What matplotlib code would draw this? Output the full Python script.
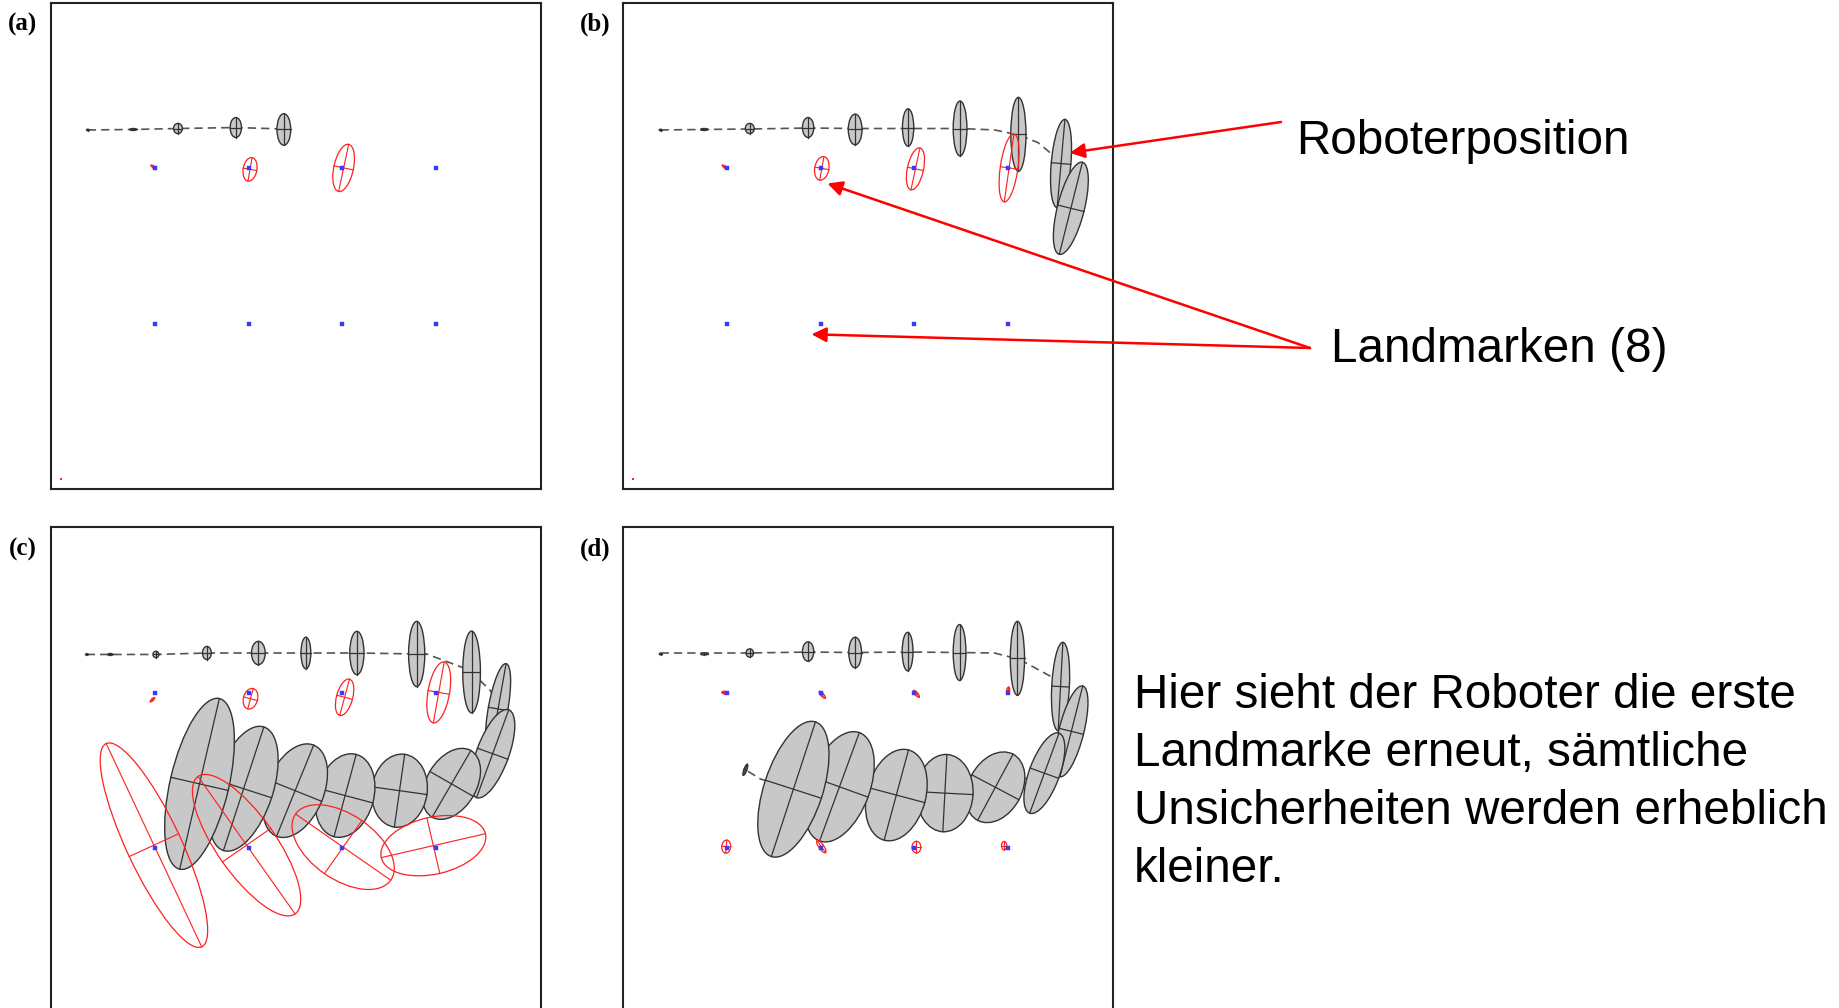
import numpy as np
import matplotlib.pyplot as plt
from matplotlib.patches import Ellipse

W, H = 1839, 1008

# True landmark grid (panel units 0..100, y up)
landmark_x = [21.3, 40.5, 59.5, 78.6]
landmark_y = [65.9, 34.0]

# Robot pose estimates: (x, y, major, minor, angle of major axis in deg)
robot_a = [(7.6, 73.8, 0.5, 0.3, 0), (16.9, 73.9, 1.4, 0.4, 0), (26.0, 74.1, 2.1, 1.8, 90),
           (37.8, 74.3, 4.1, 2.3, 90), (47.6, 73.9, 6.5, 2.8, 90)]
robot_b = [(7.7, 73.8, 0.5, 0.3, 0), (16.6, 73.9, 1.4, 0.4, 0), (25.9, 74.1, 2.1, 1.8, 90),
           (37.8, 74.3, 4.1, 2.3, 90), (47.4, 73.9, 6.3, 2.8, 90), (58.2, 74.3, 7.7, 2.3, 90),
           (68.8, 74.1, 11.3, 2.8, 90), (80.7, 72.9, 15.2, 3.1, 90), (89.4, 66.9, 18.2, 4.0, 85),
           (91.4, 57.7, 19.5, 5.5, 76)]
robot_c = [(7.4, 73.8, 0.5, 0.3, 0), (12.2, 73.8, 1.0, 0.4, 0), (21.5, 73.8, 1.3, 1.2, 90),
           (31.9, 74.1, 2.7, 1.8, 90), (42.4, 74.1, 4.8, 2.8, 90), (52.1, 74.1, 6.5, 2.0, 90),
           (62.5, 74.1, 8.9, 2.9, 90), (74.7, 73.9, 13.4, 3.3, 90), (85.9, 70.2, 16.8, 3.6, 90),
           (91.3, 62.6, 18.9, 4.0, 80), (90.2, 53.4, 19.2, 6.6, 70), (81.8, 47.2, 15.8, 10.2, 60),
           (71.2, 45.8, 15.1, 11.3, 82), (60.1, 44.8, 17.5, 11.7, 75), (49.9, 45.8, 20.2, 11.7, 68),
           (39.4, 46.2, 26.7, 12.0, 72), (30.4, 47.2, 36.0, 12.0, 77)]
robot_d = [(7.7, 73.9, 0.5, 0.3, 0), (16.6, 73.9, 1.4, 0.4, 0), (25.9, 74.1, 1.7, 1.5, 90),
           (37.8, 74.4, 4.0, 2.3, 90), (47.4, 74.2, 6.3, 2.6, 90), (58.1, 74.4, 7.9, 2.2, 90),
           (68.7, 74.2, 11.5, 2.6, 90), (80.5, 73.0, 15.2, 2.9, 90), (89.3, 67.2, 18.2, 3.6, 87),
           (91.5, 58.0, 19.2, 5.1, 76), (86.0, 49.4, 17.5, 6.2, 70), (76.0, 46.5, 15.4, 10.9, 62),
           (65.7, 45.3, 15.9, 11.5, 87), (55.8, 44.9, 19.2, 12.0, 75), (44.2, 46.6, 23.7, 12.4, 70),
           (34.8, 46.1, 29.1, 12.0, 72), (25.0, 50.1, 2.4, 0.6, 70)]

# Landmark estimates: (x, y, major, minor, angle)
marks_a = [(21.0, 66.2, 1.2, 0.4, -35), (40.7, 65.7, 4.9, 2.8, 80), (59.8, 66.0, 9.9, 4.0, 78)]
marks_b = [(20.8, 66.2, 1.2, 0.4, -35), (40.6, 65.9, 4.9, 2.9, 80), (59.7, 65.8, 8.8, 3.3, 78),
           (78.8, 66.0, 14.1, 3.6, 82)]
marks_c = [(20.8, 64.5, 1.2, 0.4, 45), (40.8, 64.7, 4.3, 2.9, 75), (60.0, 65.0, 7.7, 3.3, 75),
           (79.2, 66.0, 12.7, 4.4, 80), (21.1, 34.6, 46.1, 11.1, -65), (40.0, 34.6, 34.5, 12.0, -55),
           (59.7, 34.2, 23.7, 13.3, -35), (78.1, 34.5, 21.8, 11.7, 13)]
marks_d = [(20.6, 66.0, 0.8, 0.5, 0), (40.7, 65.5, 1.8, 0.6, -50), (59.9, 65.7, 1.8, 0.6, -50),
           (78.6, 66.4, 1.4, 0.6, 80), (21.1, 34.3, 2.7, 1.8, 85), (40.5, 34.3, 3.0, 1.0, -55),
           (59.9, 34.2, 2.4, 1.8, 90), (77.8, 34.5, 1.7, 1.1, 90)]

# Dashed trajectory
path_a_x = [7.6, 16.9, 26.0, 37.8, 47.6]
path_a_y = [73.8, 73.9, 74.1, 74.3, 74.0]
path_b_x = [7.7, 16.6, 25.9, 37.8, 47.4, 58.2, 68.8, 75.9, 81.0, 84.7, 87.2, 89.6, 91.4]
path_b_y = [73.8, 73.9, 74.0, 74.2, 74.1, 74.1, 74.1, 73.8, 72.7, 71.2, 69.1, 66.4, 57.7]
path_c_x = [7.4, 12.2, 21.5, 31.9, 42.4, 52.1, 62.5, 74.7, 76.7, 83.6, 85.9, 89.8, 91.3,
            90.2, 81.8, 71.2, 60.1, 49.9, 39.4, 30.4]
path_c_y = [73.8, 73.8, 73.8, 74.1, 74.1, 74.1, 74.1, 73.9, 73.9, 71.3, 70.2, 66.3, 62.6,
            53.4, 47.2, 45.8, 44.8, 45.8, 46.2, 47.2]
path_d_x = [7.7, 16.6, 25.9, 37.8, 47.4, 58.1, 68.7, 75.8, 80.9, 87.1, 89.3, 91.5, 86.0,
            76.0, 65.7, 55.8, 44.2, 34.8, 28.1, 25.0]
path_d_y = [74.1, 74.1, 74.1, 74.3, 74.2, 74.3, 74.2, 74.1, 72.8, 69.4, 67.2, 58.0, 49.4,
            46.5, 45.3, 44.9, 46.6, 46.1, 48.2, 50.1]

origin = (2.1, 2.1)

plt.rcParams['font.family'] = ['Liberation Sans', 'DejaVu Sans']
fig = plt.figure(figsize=(W / 100, H / 100), dpi=100)


def px(x, y):
    return x / W, 1 - y / H


def add_cov(ax, x, y, major, minor, angle, face, edge, lw, z):
    ax.add_patch(Ellipse((x, y), major, minor, angle=angle, facecolor=face,
                         edgecolor=edge, linewidth=lw, zorder=z))
    t = np.deg2rad(angle)
    for length, a in ((major, t), (minor, t + np.pi / 2)):
        dx, dy = length / 2 * np.cos(a), length / 2 * np.sin(a)
        ax.plot([x - dx, x + dx], [y - dy, y + dy], color=edge, lw=lw * 0.9, zorder=z)


def draw_panel(rect, label, robot, marks, path_x, path_y, show_origin):
    ax = fig.add_axes(rect)
    ax.set_xlim(0, 100)
    ax.set_ylim(0, 100)
    ax.set_xticks([])
    ax.set_yticks([])
    for s in ax.spines.values():
        s.set_linewidth(1.5)
        s.set_color('#222222')
    ax.plot(path_x, path_y, color='#555555', lw=1.2, dashes=(5, 3), zorder=1)
    for (x, y, a, b, ang) in robot:
        add_cov(ax, x, y, a, b, ang, '#c8c8c8', '#333333', 1.0, 2)
    for (x, y, a, b, ang) in marks:
        add_cov(ax, x, y, a, b, ang, 'none', '#ff2020', 0.9, 3)
    lx, ly = np.meshgrid(landmark_x, landmark_y)
    ax.plot(lx.ravel(), ly.ravel(), 's', color='#3a3aff', ms=2.6, mew=0.3, mec='#3a3aff', zorder=4)
    if show_origin:
        ax.plot(*origin, 's', color='#ff2020', ms=1.8, mew=0, zorder=4)
    bx, by = rect[0], rect[1] + rect[3]
    fig.text(bx - 28 / W, by - 22 / H, label, fontsize=18, fontweight='bold',
             family='Liberation Serif', ha='center', va='center')
    return ax


pw, ph = 490.2 / W, 486.5 / H
ax_a = draw_panel([50.5 / W, 1 - 489 / H, pw, ph], '(a)', robot_a, marks_a, path_a_x, path_a_y, True)
ax_b = draw_panel([622.8 / W, 1 - 489 / H, pw, ph], '(b)', robot_b, marks_b, path_b_x, path_b_y, True)
ax_c = draw_panel([50.5 / W, 1 - 1013.5 / H, pw, ph], '(c)', robot_c, marks_c, path_c_x, path_c_y, False)
ax_d = draw_panel([622.8 / W, 1 - 1013.5 / H, pw, ph], '(d)', robot_d, marks_d, path_d_x, path_d_y, False)

# Callouts
arrow = dict(arrowstyle='-|>', color='#ff0000', lw=1.8, mutation_scale=22, shrinkA=0, shrinkB=0)
ax_b.annotate('', xy=(91.2, 69.1), xytext=px(1281, 122), textcoords='figure fraction',
              arrowprops=arrow)
ax_b.annotate('', xy=(41.75, 62.8), xytext=px(1310, 348), textcoords='figure fraction',
              arrowprops=arrow)
ax_b.annotate('', xy=(38.5, 31.8), xytext=px(1310, 348), textcoords='figure fraction',
              arrowprops=arrow)

fs = 34.3
fig.text(*px(1296, 141), 'Roboterposition', fontsize=fs, ha='left', va='center')
fig.text(*px(1331, 349), 'Landmarken (8)', fontsize=fs, ha='left', va='center')
lines = ['Hier sieht der Roboter die erste', 'Landmarke erneut, sämtliche',
         'Unsicherheiten werden erheblich', 'kleiner.']
for i, line in enumerate(lines):
    fig.text(*px(1134, 696 + i * 57.7), line, fontsize=fs, ha='left', va='center')

fig.savefig('out.png', dpi=100)
